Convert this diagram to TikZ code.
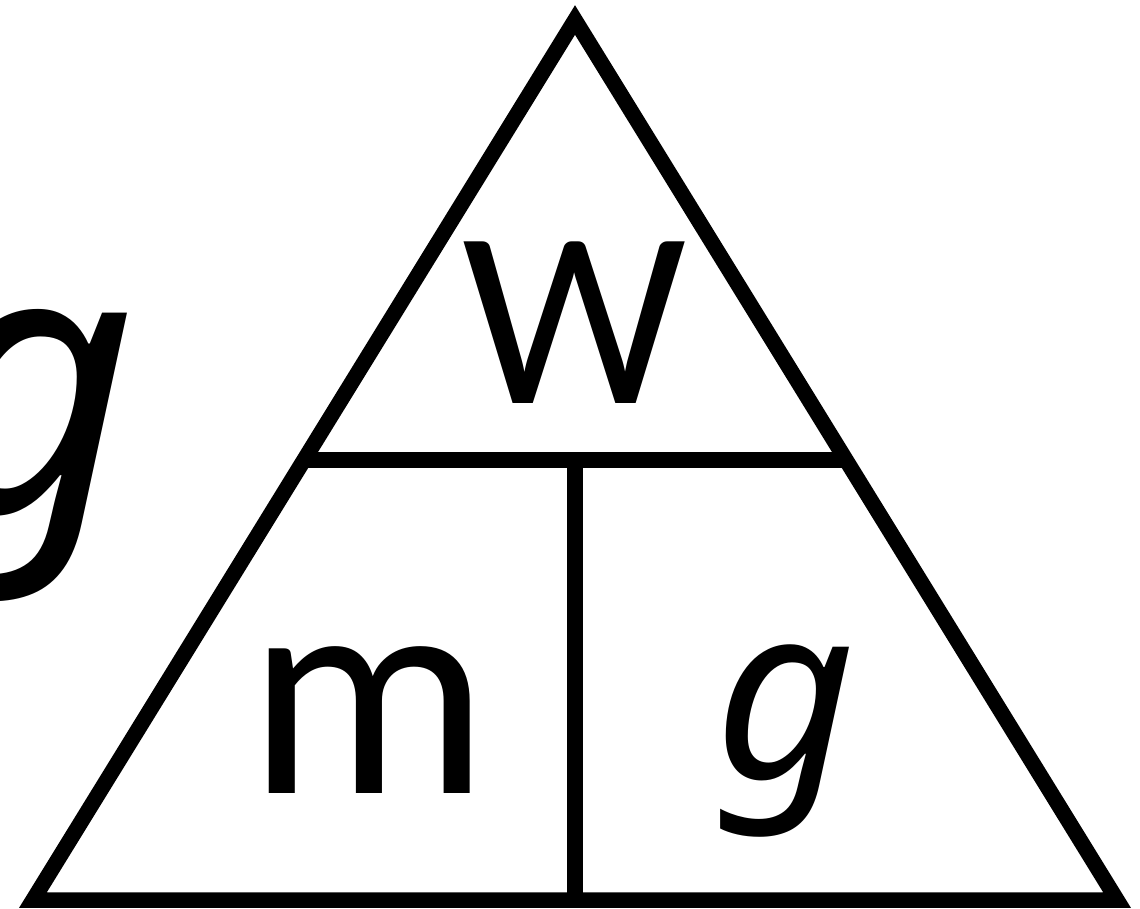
\documentclass[tikz,border=0pt]{standalone}
\usepackage{fontspec}
\setmainfont{Carlito}
\newfontfamily\gfont{Noto Sans}
\usetikzlibrary{calc}
\tikzset{
  edge/.style={line width=15.5pt, line join=miter, draw=black},
  lbl/.style={inner sep=0pt, outer sep=0pt, anchor=base, text=black},
}
\begin{document}
\begin{tikzpicture}[x=1pt,y=-1pt]
\useasboundingbox (0,0) rectangle (1140,909);
\coordinate (apex) at (575,20);
\coordinate (bl) at (33,900);
\coordinate (br) at (1117,900);
\coordinate (hl) at ($(apex)!0.5!(bl)$);
\coordinate (hr) at ($(apex)!0.5!(br)$);
\coordinate (hm) at (575,460);
\coordinate (bm) at (575,900);
\draw[edge] (apex) -- (bl) -- (br) -- cycle;
\draw[edge] (hl) -- (hr);
\draw[edge] (hm) -- (bm);
\node[lbl, font=\fontsize{252}{252}\selectfont] (W) at (575,403) {W};
\node[lbl, font=\fontsize{303}{303}\selectfont] (m) at (369,793) {m};
\node[lbl, font=\gfont\fontsize{245}{245}\selectfont\itshape] (g) at (785,778) {g};
\node[lbl, font=\gfont\fontsize{372}{372}\selectfont\itshape] (gbig) at (30,512) {g};
\end{tikzpicture}
\end{document}
